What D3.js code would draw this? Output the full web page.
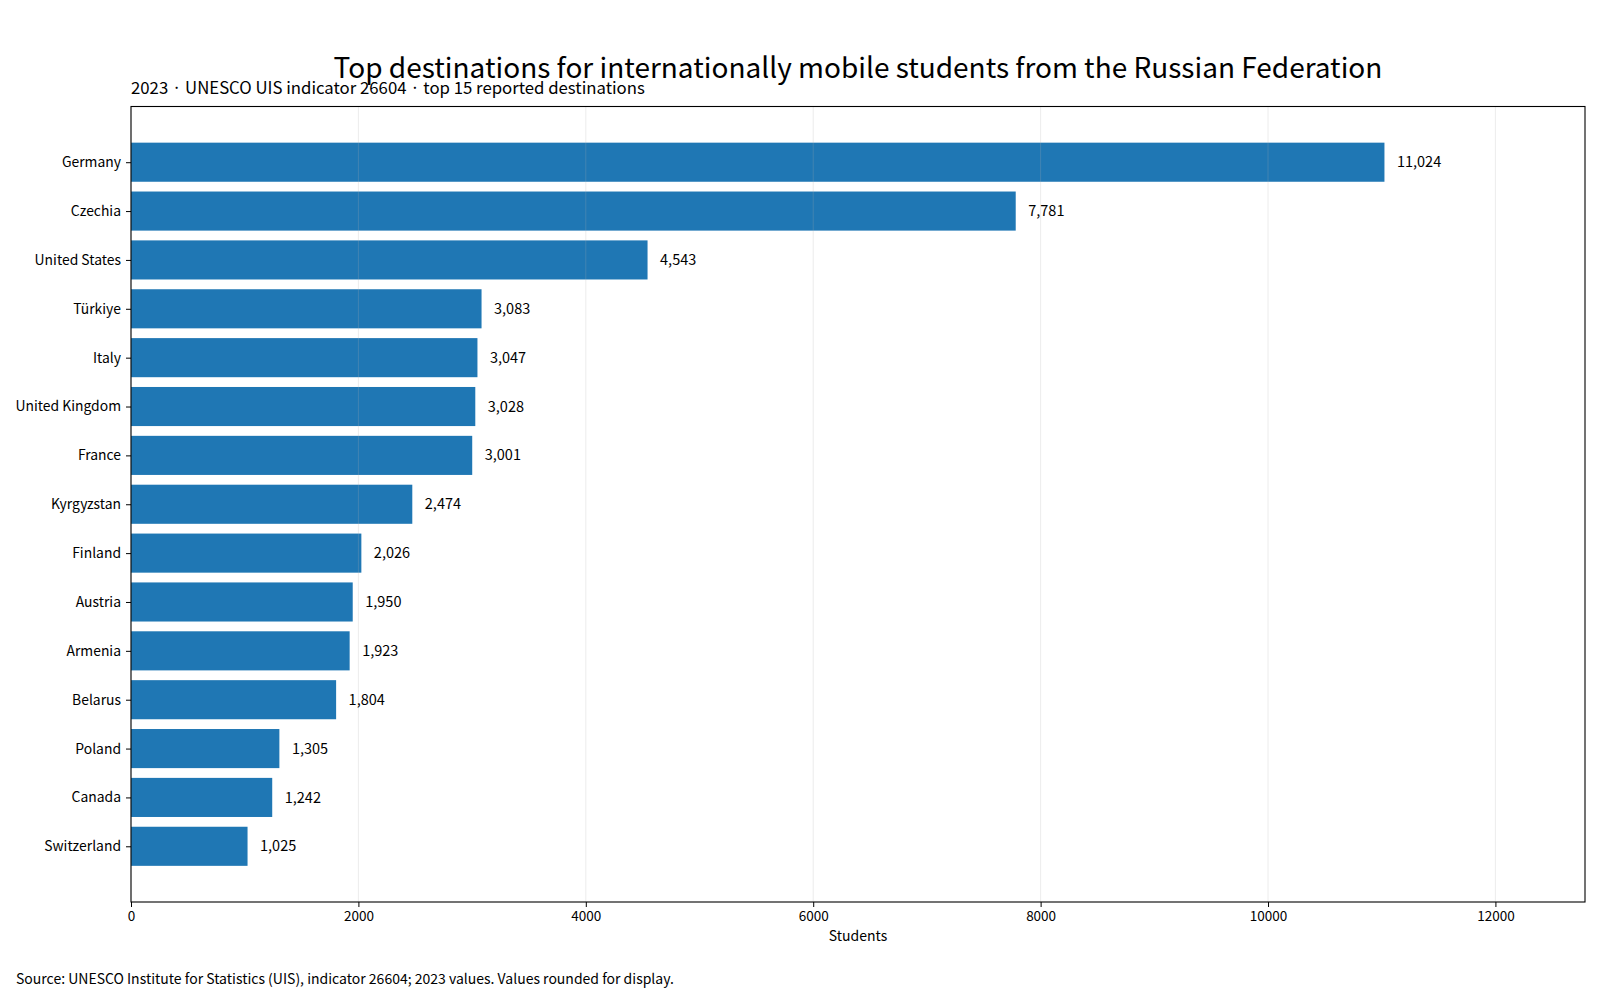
<!DOCTYPE html>
<html><head><meta charset="utf-8">
<script src="https://cdn.jsdelivr.net/npm/d3@7"></script>
<style>
body{margin:0;background:#fff;}
svg text{font-family:"Noto Sans CJK JP","Noto Sans",sans-serif;fill:#000;}
</style></head><body>
<svg id="chart" width="1600" height="1000"></svg>
<script>
const countries = ["Germany","Czechia","United States","Türkiye","Italy","United Kingdom","France","Kyrgyzstan","Finland","Austria","Armenia","Belarus","Poland","Canada","Switzerland"];
const students = [11024,7781,4543,3083,3047,3028,3001,2474,2026,1950,1923,1804,1305,1242,1025];
const xTicks = [0,2000,4000,6000,8000,10000,12000];

const svg = d3.select("#chart");
const L=131,R=1585,T=106.5,B=902;
const maxV = d3.max(students);
const x = d3.scaleLinear().domain([0, maxV*1.16]).range([L,R]);
const y = d3.scaleLinear().domain([-1.14, countries.length-1+1.14]).range([T,B]);
const barH = (y(0.4)-y(-0.4));

svg.selectAll("rect.bar").data(students).join("rect")
  .attr("class","bar")
  .attr("x",x(0)).attr("y",(d,i)=>y(i)-barH/2)
  .attr("width",d=>x(d)-x(0)).attr("height",barH)
  .attr("fill","#1f77b4");

// grid
svg.selectAll("line.grid").data(xTicks).join("line")
  .attr("x1",d=>x(d)).attr("x2",d=>x(d)).attr("y1",T).attr("y2",B)
  .attr("stroke","#b0b0b0").attr("stroke-opacity",0.3).attr("stroke-width",0.8);

// value labels
svg.selectAll("text.val").data(students).join("text")
  .attr("x",d=>x(d)+12.5).attr("y",(d,i)=>y(i)).attr("dy","0.35em")
  .attr("font-size",14.5).text(d=>d3.format(",")(d));

// axes
const xAxis = svg.append("g").attr("transform",`translate(0,${B})`)
  .call(d3.axisBottom(x).tickValues(xTicks).tickFormat(d3.format("d")).tickSize(5).tickPadding(4));
const yAxis = svg.append("g").attr("transform",`translate(${L},0)`)
  .call(d3.axisLeft(y).tickValues(d3.range(countries.length)).tickFormat(i=>countries[i]).tickSize(5).tickPadding(5));
[xAxis,yAxis].forEach(g=>{
  g.select(".domain").remove();
  g.selectAll("text").attr("font-size",13.5).attr("font-family","Noto Sans CJK JP");
  g.selectAll(".tick line").attr("stroke","#000").attr("stroke-width",1);
});
yAxis.selectAll("text").attr("font-size",13.9);

// frame
svg.append("rect").attr("x",L).attr("y",T).attr("width",R-L).attr("height",B-T)
  .attr("fill","none").attr("stroke","#000").attr("stroke-width",1.1);

svg.append("text").attr("x",(L+R)/2).attr("y",78).attr("text-anchor","middle")
  .attr("font-size",28).text("Top destinations for internationally mobile students from the Russian Federation");
svg.append("text").attr("x",L).attr("y",93.5).attr("font-size",16.75)
  .text("2023 · UNESCO UIS indicator 26604 · top 15 reported destinations");
svg.append("text").attr("x",(L+R)/2).attr("y",941).attr("text-anchor","middle")
  .attr("font-size",14).text("Students");
svg.append("text").attr("x",16).attr("y",984).attr("font-size",14)
  .text("Source: UNESCO Institute for Statistics (UIS), indicator 26604; 2023 values. Values rounded for display.");
</script>
</body></html>
